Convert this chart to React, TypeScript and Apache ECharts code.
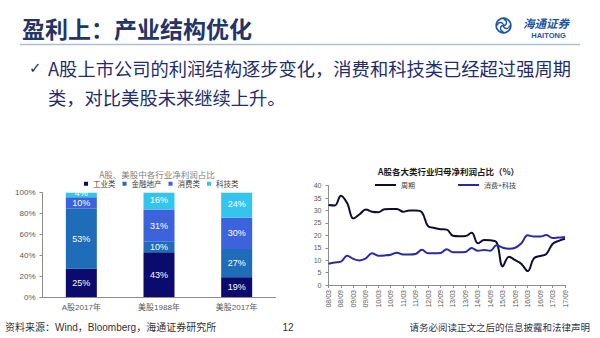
import React, { useEffect, useRef } from 'react';
import * as echarts from 'echarts';

// ---------- data ----------
const barCategories = ['A股2017年', '美股1988年', '美股2017年'];
const barSeriesNames = ['工业类', '金融地产', '消费类', '科技类'];
const industrialPct = [25, 43, 19];
const financePct = [53, 10, 27];
const consumerPct = [10, 31, 30];
const techPct = [4, 16, 24];

const quarters = [
  '08/03', '08/06', '08/09', '08/12', '09/03', '09/06', '09/09', '09/12',
  '10/03', '10/06', '10/09', '10/12', '11/03', '11/06', '11/09', '11/12',
  '12/03', '12/06', '12/09', '12/12', '13/03', '13/06', '13/09', '13/12',
  '14/03', '14/06', '14/09', '14/12', '15/03', '15/06', '15/09', '15/12',
  '16/03', '16/06', '16/09', '16/12', '17/03', '17/06', '17/09',
];
const cyclical = [
  32.2, 32, 36, 33, 26.8, 28.5, 30.4, 29.5, 29.3, 30.5, 30.6, 30.6, 29.5,
  30, 30, 29.3, 23.7, 23, 22.5, 22.3, 19.8, 19.6, 19.7, 21, 16.8, 18.1, 18,
  17.2, 7.5, 11.4, 10, 8.5, 5.6, 10.7, 11.7, 12.5, 16.5, 17.8, 18.6,
];
const consumerTech = [
  8.6, 9.1, 9.4, 11.8, 10.5, 9.9, 10.7, 12.8, 11.8, 11.9, 12.2, 13, 12.3,
  12.3, 12.5, 14.2, 12.8, 12.8, 12.9, 14.4, 13.2, 13.2, 13.3, 14.9, 13.8,
  14.1, 13.8, 16, 15, 14.6, 15, 16.8, 20, 19.5, 19.5, 20.1, 18.9, 19.1, 19.3,
];
const lineSeriesNames = ['周期', '消费+科技'];

// ---------- styles ----------
const barColors = ['#0b0b6e', '#1f6cb8', '#3c62dc', '#33c5ee'];
const lineColors = ['#0d0d35', '#2a2aa6'];
const FONT = "'Liberation Sans', 'Noto Sans CJK SC', sans-serif";
const CJK = "'Noto Sans CJK SC', sans-serif";
const navy = '#1f2d6b';
const logoBlue = '#1d56a0';

export default function App() {
  const ref = useRef<HTMLDivElement>(null);

  useEffect(() => {
    if (!ref.current) return;
    const chart = echarts.init(ref.current, null, { renderer: 'svg' });

    const rawStack = [industrialPct, financePct, consumerPct, techPct];
    const totals = barCategories.map((_, i) =>
      rawStack.reduce((s, arr) => s + arr[i], 0)
    );

    const barSeries = rawStack.map((arr, k) => ({
      type: 'bar',
      name: barSeriesNames[k],
      stack: 'share',
      xAxisIndex: 0,
      yAxisIndex: 0,
      barWidth: 31,
      data: arr.map((v, i) => (v / totals[i]) * 100),
      itemStyle: { color: barColors[k] },
      label: {
        show: true,
        position: 'inside',
        color: '#ffffff',
        fontSize: 9,
        lineHeight: 8,
        offset: k === 3 ? [0, -1.5] : [0, 0],
        fontFamily: FONT,
        formatter: (p: any) => arr[p.dataIndex] + '%',
      },
    }));

    const lineSeries = [cyclical, consumerTech].map((arr, k) => ({
      type: 'line',
      name: lineSeriesNames[k],
      xAxisIndex: 1,
      yAxisIndex: 1,
      data: arr,
      smooth: 0.4,
      symbol: 'none',
      lineStyle: { color: lineColors[k], width: 2 },
      itemStyle: { color: lineColors[k] },
    }));

    const cx = 503.5;
    const cy = 25.5;

    chart.setOption({
      animation: false,
      backgroundColor: '#ffffff',
      textStyle: { fontFamily: FONT },
      grid: [
        { left: 42.5, top: 192.7, width: 233, height: 104.3 },
        { left: 328.5, top: 185.7, width: 236.5, height: 99.3 },
      ],
      legend: [
        {
          data: barSeriesNames,
          left: 84,
          top: 180,
          padding: 0,
          icon: 'rect',
          itemWidth: 4,
          itemHeight: 4,
          itemGap: 7,
          textStyle: { fontSize: 7.5, color: '#404040', width: 30, fontFamily: CJK },
        },
        {
          data: lineSeriesNames,
          left: 375,
          top: 181.5,
          padding: 0,
          icon: 'rect',
          itemWidth: 21,
          itemHeight: 2,
          itemGap: 43,
          textStyle: { fontSize: 7, color: '#404040', fontFamily: CJK },
        },
      ],
      xAxis: [
        {
          type: 'category',
          gridIndex: 0,
          data: barCategories,
          axisLine: { lineStyle: { color: '#8c8c8c' } },
          axisTick: { show: false },
          axisLabel: { fontSize: 8, color: '#595959', margin: 6 },
        },
        {
          type: 'category',
          gridIndex: 1,
          data: quarters,
          boundaryGap: false,
          axisLine: { lineStyle: { color: '#8c8c8c' } },
          axisTick: { show: true, interval: 1, length: 3, lineStyle: { color: '#8c8c8c' } },
          axisLabel: { interval: 1, rotate: 90, fontSize: 7, color: '#595959', margin: 5 },
        },
      ],
      yAxis: [
        {
          type: 'value',
          gridIndex: 0,
          min: 0,
          max: 100,
          interval: 20,
          axisLine: { show: true, lineStyle: { color: '#8c8c8c' } },
          axisTick: { show: true, length: 3, lineStyle: { color: '#8c8c8c' } },
          splitLine: { show: false },
          axisLabel: { formatter: '{value}%', fontSize: 8, color: '#595959', margin: 7 },
        },
        {
          type: 'value',
          gridIndex: 1,
          min: 0,
          max: 40,
          interval: 5,
          axisLine: { show: true, lineStyle: { color: '#8c8c8c' } },
          axisTick: { show: true, length: 3, lineStyle: { color: '#8c8c8c' } },
          splitLine: { show: false },
          axisLabel: { fontSize: 7, color: '#595959', margin: 7 },
        },
      ],
      series: [...barSeries, ...lineSeries],
      graphic: [
        {
          type: 'text',
          x: 22,
          y: 28,
          style: {
            text: '盈利上：产业结构优化',
            fontSize: 23,
            fontWeight: 'bold',
            fontFamily: CJK,
            fill: '#243466',
            verticalAlign: 'middle',
          },
        },
        {
          type: 'line',
          shape: { x1: 20, y1: 44.5, x2: 580, y2: 44.5 },
          style: { stroke: '#aebfd0', lineWidth: 1.5 },
        },
        // logo
        {
          type: 'circle',
          shape: { cx, cy, r: 7.3 },
          style: { fill: 'none', stroke: logoBlue, lineWidth: 1.7 },
        },
        {
          type: 'arc',
          shape: { cx: cx - 3, cy, r: 3, startAngle: Math.PI, endAngle: 2 * Math.PI },
          style: { fill: 'none', stroke: logoBlue, lineWidth: 1.3 },
        },
        {
          type: 'arc',
          shape: { cx: cx + 3, cy, r: 3, startAngle: 0, endAngle: Math.PI },
          style: { fill: 'none', stroke: logoBlue, lineWidth: 1.3 },
        },
        {
          type: 'arc',
          shape: { cx, cy: cy - 3, r: 3, startAngle: -Math.PI / 2, endAngle: Math.PI / 2 },
          style: { fill: 'none', stroke: logoBlue, lineWidth: 1.3 },
        },
        {
          type: 'arc',
          shape: { cx, cy: cy + 3, r: 3, startAngle: Math.PI / 2, endAngle: (3 * Math.PI) / 2 },
          style: { fill: 'none', stroke: logoBlue, lineWidth: 1.3 },
        },
        {
          type: 'text',
          x: 523,
          y: 23,
          style: {
            text: '海通证券',
            fontSize: 11.5,
            lineHeight: 12,
            fontWeight: 'bold',
            fontStyle: 'italic',
            fontFamily: CJK,
            fill: logoBlue,
            verticalAlign: 'middle',
          },
        },
        {
          type: 'text',
          x: 548.5,
          y: 35.5,
          style: {
            text: 'HAITONG',
            fontSize: 7.5,
            lineHeight: 8,
            fontWeight: 'bold',
            fontFamily: "'Liberation Sans', sans-serif",
            fill: logoBlue,
            align: 'center',
            verticalAlign: 'middle',
          },
        },
        // bullet
        {
          type: 'text',
          x: 29,
          y: 68,
          style: {
            text: '✓',
            fontSize: 15,
            fontFamily: "'DejaVu Sans', sans-serif",
            fill: navy,
            verticalAlign: 'middle',
          },
        },
        {
          type: 'text',
          x: 48,
          y: 68,
          style: {
            text: 'A股上市公司的利润结构逐步变化，消费和科技类已经超过强周期',
            fontSize: 18.3,
            fontFamily: CJK,
            fill: navy,
            verticalAlign: 'middle',
          },
        },
        {
          type: 'text',
          x: 48,
          y: 97,
          style: {
            text: '类，对比美股未来继续上升。',
            fontSize: 18.3,
            fontFamily: CJK,
            fill: navy,
            verticalAlign: 'middle',
          },
        },
        // chart titles
        {
          type: 'text',
          x: 157,
          y: 173.5,
          style: {
            text: 'A股、美股中各行业净利润占比',
            fontSize: 8.5,
            fontFamily: CJK,
            fill: '#7f7f7f',
            align: 'center',
            verticalAlign: 'middle',
          },
        },
        {
          type: 'text',
          x: 448.5,
          y: 170.7,
          style: {
            text: 'A股各大类行业归母净利润占比（%）',
            fontSize: 8.5,
            fontWeight: 'bold',
            fontFamily: CJK,
            fill: '#1a1a1a',
            align: 'center',
            verticalAlign: 'middle',
          },
        },
        // footer
        {
          type: 'text',
          x: 5,
          y: 327,
          style: {
            text: '资料来源：Wind，Bloomberg，海通证券研究所',
            fontSize: 10,
            fontFamily: FONT,
            fill: '#333333',
            verticalAlign: 'middle',
          },
        },
        {
          type: 'text',
          x: 288,
          y: 327,
          style: {
            text: '12',
            fontSize: 10,
            fontFamily: FONT,
            fill: '#333333',
            align: 'center',
            verticalAlign: 'middle',
          },
        },
        {
          type: 'text',
          x: 590,
          y: 327,
          style: {
            text: '请务必阅读正文之后的信息披露和法律声明',
            fontSize: 9.5,
            fontFamily: CJK,
            fill: '#333344',
            align: 'right',
            verticalAlign: 'middle',
          },
        },
      ],
    });

    return () => chart.dispose();
  }, []);

  return (
    <div
      ref={ref}
      style={{ position: 'fixed', left: 0, top: 0, width: 600, height: 338, background: '#fff' }}
    />
  );
}
